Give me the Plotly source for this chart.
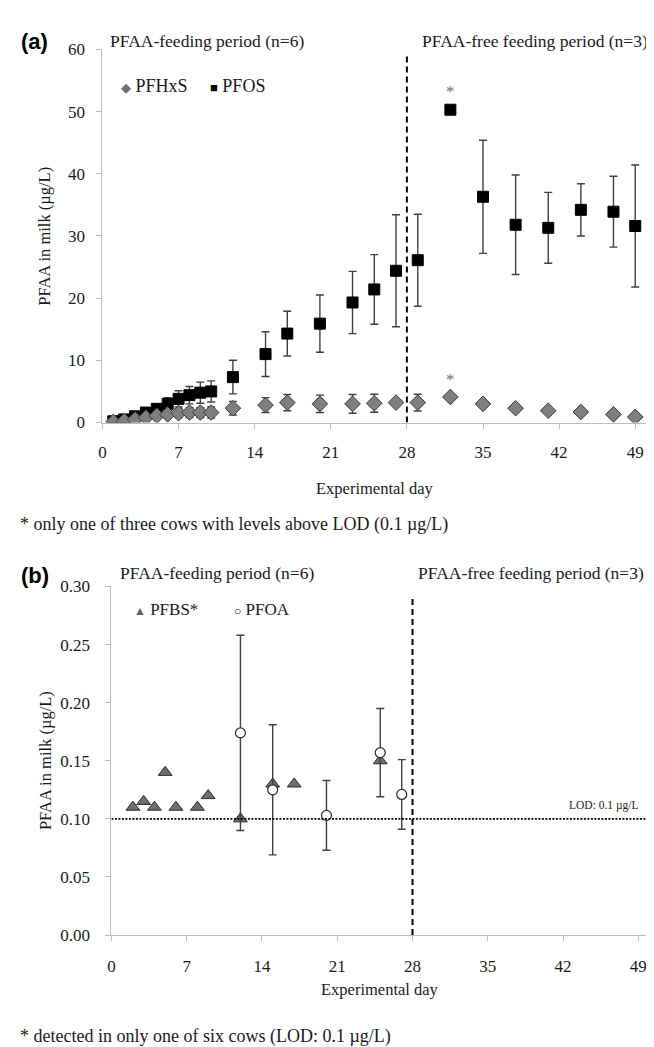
import plotly.graph_objects as go

W, H = 654, 1047

# ---------------- data: panel (a) ----------------
days_a = [1, 2, 3, 4, 5, 6, 7, 8, 9, 10, 12, 15, 17, 20, 23, 25, 27, 29, 32, 35, 38, 41, 44, 47, 49]
pfos_mean = [0.2, 0.5, 1.0, 1.6, 2.2, 3.0, 3.8, 4.4, 4.8, 5.0, 7.3, 11.0, 14.3, 15.9, 19.3, 21.4, 24.4, 26.1,
             50.3, 36.3, 31.8, 31.3, 34.2, 33.9, 31.6]
pfos_sd = [0.1, 0.2, 0.3, 0.4, 0.6, 1.0, 1.3, 1.4, 1.7, 1.7, 2.7, 3.6, 3.6, 4.6, 5.0, 5.6, 9.0, 7.4,
           0, 9.1, 8.0, 5.7, 4.2, 5.7, 9.8]
pfhxs_mean = [0.1, 0.25, 0.5, 0.8, 1.1, 1.3, 1.5, 1.6, 1.6, 1.6, 2.3, 2.8, 3.2, 3.0, 3.0, 3.1, 3.2, 3.2,
              4.1, 3.0, 2.3, 1.9, 1.7, 1.3, 0.9]
pfhxs_sd = [0.05, 0.1, 0.2, 0.3, 0.4, 0.5, 0.7, 0.8, 0.8, 0.9, 1.1, 1.2, 1.3, 1.4, 1.5, 1.45, 0.3, 1.35,
            0, 0.6, 0.5, 0.3, 0.3, 0.2, 0.2]

# ---------------- data: panel (b) ----------------
days_pfbs = [2, 3, 4, 5, 6, 8, 9, 12, 15, 17, 25]
pfbs = [0.11, 0.115, 0.11, 0.14, 0.11, 0.11, 0.12, 0.10, 0.13, 0.13, 0.15]
days_pfoa = [12, 15, 20, 25, 27]
pfoa_mean = [0.174, 0.125, 0.103, 0.157, 0.121]
pfoa_sd = [0.084, 0.056, 0.030, 0.038, 0.030]

x_ticks = [0, 7, 14, 21, 28, 35, 42, 49]
ya_ticks = [0, 10, 20, 30, 40, 50, 60]
yb_ticks = [0.00, 0.05, 0.10, 0.15, 0.20, 0.25, 0.30]
lod = 0.1
switch_day = 28

# ---------------- helpers ----------------
def px(x):
    return x / W

def py(y):
    return 1 - y / H

SERIF = "Liberation Serif"
TXT = "#1a1a1a"
AX = "#bdbdbd"
ERR = "#404040"

fig = go.Figure()

# panel (a)
fig.add_trace(go.Scatter(
    x=days_a, y=pfos_mean, mode="markers", name="PFOS", xaxis="x", yaxis="y",
    marker=dict(symbol="square", size=11, color="black", line=dict(color="black", width=1)),
    error_y=dict(type="data", array=pfos_sd, visible=True, color=ERR, thickness=1.4, width=4),
))
fig.add_trace(go.Scatter(
    x=days_a, y=pfhxs_mean, mode="markers", name="PFHxS", xaxis="x", yaxis="y",
    marker=dict(symbol="diamond", size=12, color="#7f7f7f", line=dict(color="#3a3a3a", width=1)),
    error_y=dict(type="data", array=pfhxs_sd, visible=True, color=ERR, thickness=1.4, width=4),
))

# panel (b)
fig.add_trace(go.Scatter(
    x=days_pfbs, y=pfbs, mode="markers", name="PFBS*", xaxis="x2", yaxis="y2",
    marker=dict(symbol="triangle-up", size=12, color="#6f6f6f", line=dict(color="#2a2a2a", width=1)),
))
fig.add_trace(go.Scatter(
    x=days_pfoa, y=pfoa_mean, mode="markers", name="PFOA", xaxis="x2", yaxis="y2",
    marker=dict(symbol="circle", size=10, color="white", line=dict(color="#2a2a2a", width=1.2)),
    error_y=dict(type="data", array=pfoa_sd, visible=True, color=ERR, thickness=1.4, width=4),
))

axis_common = dict(showline=True, linecolor=AX, linewidth=1, ticks="outside", ticklen=5,
                   tickcolor=AX, showgrid=False, zeroline=False,
                   tickfont=dict(family=SERIF, size=17, color=TXT))

fig.update_layout(
    width=W, height=H, margin=dict(l=0, r=0, t=0, b=0),
    paper_bgcolor="white", plot_bgcolor="white", showlegend=False,
    xaxis=dict(domain=[px(91), px(638)], range=[0, 50], tickvals=x_ticks, anchor="y",
               ticklabelstandoff=9, **axis_common),
    yaxis=dict(domain=[py(413), py(33)], range=[0, 60], tickvals=ya_ticks, anchor="x",
               ticklabelstandoff=8, **axis_common),
    xaxis2=dict(domain=[px(100), px(641)], range=[0, 50], tickvals=x_ticks, anchor="y2",
                ticklabelstandoff=11, **axis_common),
    yaxis2=dict(domain=[py(935), py(580)], range=[0, 0.30], tickvals=yb_ticks, tickformat=".2f",
                anchor="x2", ticklabelstandoff=12, **axis_common),
)

# shapes: period divider and LOD line
fig.add_shape(type="line", xref="x", yref="y", x0=switch_day, x1=switch_day, y0=0, y1=59.4,
              line=dict(color="black", width=2, dash="6px,4px"))
fig.add_shape(type="line", xref="x2", yref="y2", x0=switch_day, x1=switch_day, y0=0, y1=0.29,
              line=dict(color="black", width=2, dash="6px,4px"))
fig.add_shape(type="line", xref="x2", yref="y2", x0=0, x1=50, y0=lod, y1=lod,
              line=dict(color="black", width=1.6, dash="2px,1.5px"))

def note(text, x, y, size=17, xanchor="left", **kw):
    fig.add_annotation(text=text, x=x, y=y, xref="paper", yref="paper", showarrow=False,
                       xanchor=xanchor, yanchor="middle",
                       font=dict(family=kw.pop("family", SERIF), size=size, color=kw.pop("color", TXT)),
                       **kw)

# panel (a) texts
note("<b>(a)</b>", px(7), py(25), size=22, family="Liberation Sans", color="black")
note("PFAA-feeding period (n=6)", px(97), py(24), size=17.5)
note("PFAA-free feeding period (n=3)", px(411), py(24), size=17.5)
note('<span style="color:#707070;font-size:13px">◆</span> PFHxS', px(108), py(70), size=18)
note('<span style="color:black;font-size:13px">■</span> PFOS', px(197), py(70), size=18)
note("PFAA in milk (µg/L)", px(33), py(223), size=16.5, xanchor="center", textangle=-90)
note("Experimental day", px(365), py(480), size=16.5, xanchor="center")
note("* only one of three cows with levels above LOD (0.1 µg/L)", px(6), py(517), size=18)
fig.add_annotation(text="*", x=32, y=pfos_mean[days_a.index(32)], xref="x", yref="y", showarrow=False,
                   yshift=18, font=dict(family=SERIF, size=17, color="#707070"))
fig.add_annotation(text="*", x=32, y=pfhxs_mean[days_a.index(32)], xref="x", yref="y", showarrow=False,
                   yshift=18, font=dict(family=SERIF, size=17, color="#707070"))

# panel (b) texts
note("<b>(b)</b>", px(7), py(569), size=22, family="Liberation Sans", color="black")
note("PFAA-feeding period (n=6)", px(107), py(566), size=17.5)
note("PFAA-free feeding period (n=3)", px(406), py(566), size=17.5)
note('<span style="color:#606060;font-size:12px">▲</span> PFBS*', px(121), py(603), size=17)
note('<span style="font-size:12px">○</span> PFOA', px(221), py(603), size=17)
note("LOD: 0.1 µg/L", px(633), py(803), size=11.5, xanchor="right")
note("PFAA in milk (µg/L)", px(33), py(757), size=16.5, xanchor="center", textangle=-90)
note("Experimental day", px(370), py(990), size=16.5, xanchor="center")
note("* detected in only one of six cows (LOD: 0.1 µg/L)", px(6), py(1038), size=18)

fig.write_html("out.html")
